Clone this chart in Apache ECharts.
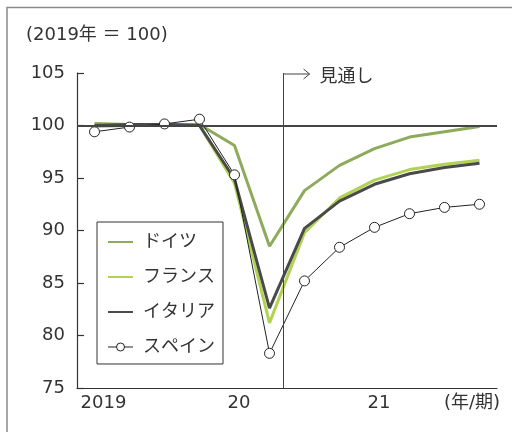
<!DOCTYPE html>
<html>
<head>
<meta charset="utf-8">
<script src="https://cdn.jsdelivr.net/npm/echarts@6/dist/echarts.min.js"></script>
<style>
  html, body { margin: 0; padding: 0; background: #fff; }
  #chart { width: 512px; height: 432px; }
</style>
</head>
<body>
<div id="chart"></div>
<script>
// Quarterly real GDP index (2019 = 100), 2019Q1 – 2021Q4
const quarters = ['2019Q1','2019Q2','2019Q3','2019Q4','2020Q1','2020Q2','2020Q3','2020Q4','2021Q1','2021Q2','2021Q3','2021Q4'];
const yearLabels = { 0: '2019', 4: '20', 8: '21' };

const germany = [100.2, 100.1, 100.1, 100.1, 98.1, 88.5, 93.8, 96.2, 97.8, 98.9, 99.4, 99.9];
const france  = [99.9, 100.0, 100.0, 100.0, 94.5, 81.2, 89.8, 93.1, 94.8, 95.8, 96.3, 96.7];
const italy   = [100.0, 100.1, 100.1, 100.0, 94.9, 82.6, 90.2, 92.8, 94.4, 95.4, 96.0, 96.4];
const spain   = [99.4, 99.85, 100.15, 100.6, 95.3, 78.3, 85.2, 88.4, 90.3, 91.6, 92.2, 92.5];

const baseLevel = 100;        // 2019 average
const forecastStart = 5.9;    // projections begin after 2020Q2

const FONT = 'DejaVu Sans, "Noto Sans CJK JP", sans-serif';
const TXT = '#333';

const chart = echarts.init(document.getElementById('chart'), null, { renderer: 'canvas' });

const lineSeries = (name, data, color, width) => ({
  name, type: 'line', data,
  symbol: 'none',
  lineStyle: { color, width },
  itemStyle: { color },
  emphasis: { disabled: true },
  animation: false
});

// legend entries for plain lines: no marker
const plainEntry = name => ({ name, itemStyle: { color: 'rgba(0,0,0,0)', borderWidth: 0 } });

chart.setOption({
  animation: false,
  grid: { left: 77, right: 15, top: 73, bottom: 44 },
  xAxis: [{
    type: 'category',
    data: quarters,
    boundaryGap: true,
    axisLine: { lineStyle: { color: TXT, width: 1.2 } },
    axisTick: { inside: true, length: 7, interval: 3, lineStyle: { color: TXT, width: 1.2 } },
    axisLabel: {
      interval: 0,
      margin: 6,
      fontFamily: FONT, fontSize: 18, color: TXT,
      formatter: (v, i) => yearLabels[i] ? (i === 0 ? '{a|' + yearLabels[i] + '}' : '{b|' + yearLabels[i] + '}') : '',
      rich: {
        a: { fontFamily: FONT, fontSize: 18, color: TXT, padding: [0, 0, 0, 18] },
        b: { fontFamily: FONT, fontSize: 18, color: TXT, padding: [0, 0, 0, 9] }
      }
    },
    splitLine: { show: false }
  }, {
    type: 'value', min: 0, max: quarters.length, show: false
  }],
  yAxis: {
    type: 'value', min: 75, max: 105, interval: 5,
    axisLine: { show: true, lineStyle: { color: TXT, width: 1.2 } },
    axisTick: { show: true, inside: true, length: 7, lineStyle: { color: TXT, width: 1.2 } },
    axisLabel: { margin: 12, fontFamily: FONT, fontSize: 18, color: TXT },
    splitLine: { show: false }
  },
  legend: {
    orient: 'vertical',
    left: 97, top: 222,
    padding: [11, 8, 8, 10],
    itemGap: 17,
    itemWidth: 25, itemHeight: 10,
    borderColor: TXT, borderWidth: 1,
    backgroundColor: '#fff',
    textStyle: { fontFamily: FONT, fontSize: 18, color: TXT, padding: [0, 0, 0, 5] },
    data: [
      plainEntry('ドイツ'),
      plainEntry('フランス'),
      plainEntry('イタリア'),
      { name: 'スペイン', lineStyle: { width: 1, color: '#222' },
        itemStyle: { color: '#fff', borderColor: '#222', borderWidth: 1 } }
    ]
  },
  series: [
    Object.assign(lineSeries('ドイツ', germany, '#8dab5a', 3), {
      markLine: {
        silent: true, symbol: 'none', label: { show: false },
        lineStyle: { color: '#444', width: 2, type: 'solid' },
        data: [{ yAxis: baseLevel }]
      }
    }),
    lineSeries('フランス', france, '#b1d253', 3),
    lineSeries('イタリア', italy, '#4a4a4a', 3),
    {
      name: 'スペイン', type: 'line', data: spain,
      symbol: 'circle', symbolSize: 10, showSymbol: true,
      lineStyle: { color: '#222', width: 1 },
      itemStyle: { color: '#fff', borderColor: '#222', borderWidth: 1 },
      emphasis: { disabled: true }
    },
    {
      name: 'forecast', type: 'line', xAxisIndex: 1, data: [],
      markLine: {
        silent: true, symbol: 'none', label: { show: false },
        lineStyle: { color: '#444', width: 1, type: 'solid' },
        data: [{ xAxis: forecastStart }]
      }
    }
  ]
});

// Outer frame, arrow and caption for the projection period
const arrowBase = chart.convertToPixel({ xAxisIndex: 1, yAxisIndex: 0 }, [forecastStart, 105]);
const ax = arrowBase[0], ay = arrowBase[1] + 1;
chart.setOption({
  graphic: [
    { type: 'rect', shape: { x: 7, y: 7.5, width: 560, height: 480 },
      style: { fill: 'none', stroke: '#8a8a8a', lineWidth: 1.5 }, silent: true },
    { type: 'text', left: 26, top: 26,
      style: { text: '(2019年 ＝ 100)', font: '18px ' + FONT, fill: TXT } },
    { type: 'text', right: 12, top: 394,
      style: { text: '(年/期)', font: '18px ' + FONT, fill: TXT } },
    { type: 'polyline', shape: { points: [[ax, ay], [ax + 26, ay]] },
      style: { stroke: '#444', lineWidth: 1, fill: 'none' }, silent: true },
    { type: 'polyline', shape: { points: [[ax + 20, ay - 5], [ax + 26, ay], [ax + 20, ay + 5]] },
      style: { stroke: '#444', lineWidth: 1, fill: 'none' }, silent: true },
    { type: 'text', x: ax + 36, y: ay + 3,
      style: { text: '見通し', font: '18px ' + FONT, fill: TXT, textVerticalAlign: 'middle' } }
  ]
});
</script>
</body>
</html>
